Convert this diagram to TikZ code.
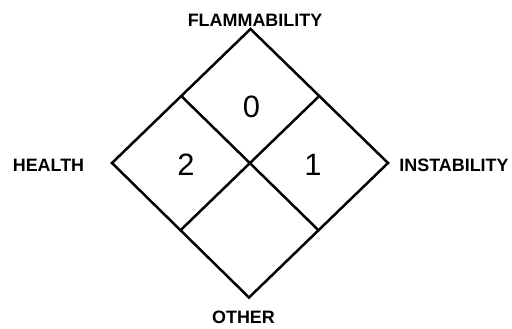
\documentclass[tikz,border=0pt]{standalone}
\usepackage{fontspec}
\setmainfont{Liberation Sans}
\usetikzlibrary{positioning, calc}

\begin{document}
\begin{tikzpicture}[x=1bp, y=-1bp,
    edge/.style={line width=2.5bp, line join=miter},
    hazard/.style={inner sep=0pt, font=\bfseries\fontsize{18}{20}\selectfont},
    rating/.style={inner sep=0pt, font=\fontsize{31}{34}\selectfont}]
    \useasboundingbox (0,0) rectangle (512,328);

    % corners of the diamond
    \coordinate (top) at (250.5,29);
    \coordinate (left) at (112,163);
    \coordinate (right) at (388,163);
    \coordinate (bottom) at (249,297.5);
    % middles of the sides, for the inner cross
    \coordinate (ul) at ($(top)!0.5!(left)$);
    \coordinate (ur) at ($(top)!0.5!(right)$);
    \coordinate (ll) at ($(bottom)!0.5!(left)$);
    \coordinate (lr) at ($(bottom)!0.5!(right)$);

    \draw[edge] (top) -- (right) -- (bottom) -- (left) -- cycle;
    \draw[edge] (ul) -- (lr);
    \draw[edge] (ur) -- (ll);

    % ratings in the quarters
    \node[rating] (flam) at (251.5,107) {0};
    \node[rating] (health) at (186,165) {2};
    \node[rating] (inst) at (313,165) {1};

    % hazard names round the diamond
    \node[hazard] (flamlbl) at (255,20) {FLAMMABILITY};
    \node[hazard] (healthlbl) at (48.5,165) {HEALTH};
    \node[hazard] (instlbl) at (454,165) {INSTABILITY};
    \node[hazard] (otherlbl) at (243.5,317.5) {OTHER};
  \end{tikzpicture}
\end{document}
